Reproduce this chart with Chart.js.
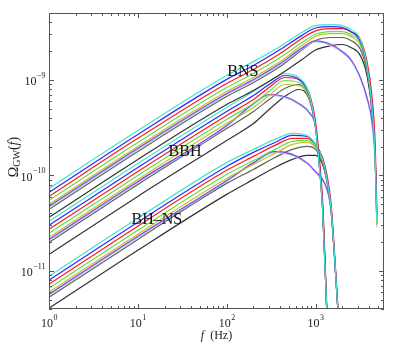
<!DOCTYPE html>
<html><head><meta charset="utf-8">
<script src="https://cdn.jsdelivr.net/npm/chart.js@4.4.1/dist/chart.umd.min.js"></script>
<style>html,body{margin:0;padding:0;background:#fff;}#wrap{width:399px;height:346px;}</style>
</head><body><div id="wrap"><canvas id="c" width="399" height="346"></canvas></div>
<script>
// ---- data (Omega_GW vs f) ----
const seriesNames = ['cyan','blue','red','green','olive','purple','lightcyan','darkgrey','black'];
const seriesColors = ['#44e4cc','#2a2aff','#ff1a1a','#5ee04a','#c2c22a','#9a3de8','#88d4ec','#606060','#333333'];

const bnsFreq = [1,10,100,200,400,700,1000,1500,2000,2500,3200,3800,4300,4700,4900];
const bnsCyan   = [7.3e-11,2.95e-10,1.11e-9,1.55e-9,2.23e-9,3.12e-9,3.69e-9,3.78e-9,3.69e-9,3.35e-9,2.64e-9,1.38e-9,5.52e-10,1.47e-10,3.47e-11];
const bnsBlue   = [6.64e-11,2.68e-10,1.01e-9,1.41e-9,2.07e-9,2.90e-9,3.48e-9,3.60e-9,3.52e-9,3.19e-9,2.52e-9,1.34e-9,5.66e-10,1.54e-10,3.91e-11];
const bnsRed    = [6.03e-11,2.44e-10,9.15e-10,1.28e-9,1.88e-9,2.70e-9,3.25e-9,3.43e-9,3.43e-9,3.19e-9,2.64e-9,1.55e-9,7.02e-10,2.11e-10,4.41e-11];
const bnsGreen  = [5.48e-11,2.21e-10,8.31e-10,1.164e-9,1.71e-9,2.45e-9,3.00e-9,3.19e-9,3.19e-9,2.97e-9,2.40e-9,1.34e-9,5.93e-10,1.66e-10,3.47e-11];
const bnsOlive  = [4.98e-11,2.01e-10,7.55e-10,1.057e-9,1.55e-9,2.28e-9,2.85e-9,3.04e-9,3.04e-9,2.83e-9,2.28e-9,1.28e-9,5.52e-10,1.47e-10,3.08e-11];
const bnsPurple = [4.75e-11,1.92e-10,7.19e-10,1.007e-9,1.48e-9,2.15e-9,2.55e-9,2.34e-9,1.98e-9,1.63e-9,1.057e-9,6.53e-10,3.85e-10,1.47e-10,3.47e-11];
const bnsLightCyan = [4.63e-11,1.87e-10,7.02e-10,9.83e-10,1.445e-9,2.10e-9,2.50e-9,2.28e-9,1.93e-9,1.59e-9,1.03e-9,6.22e-10,3.49e-10,1.21e-10,2.86e-11];
const bnsDarkGrey = [4.41e-11,1.78e-10,6.69e-10,9.37e-10,1.38e-9,2.05e-9,2.58e-9,2.77e-9,2.77e-9,2.58e-9,2.07e-9,1.22e-9,5.13e-10,1.47e-10,3.08e-11];
const bnsBlack  = [3.64e-11,1.47e-10,5.52e-10,7.73e-10,1.136e-9,1.62e-9,2.05e-9,2.28e-9,2.34e-9,2.18e-9,1.79e-9,1.109e-9,4.89e-10,1.47e-10,3.08e-11];

const bbhFreq = [1,10,100,200,300,450,650,850,1000,1100,1200,1350];
const bbhCyan   = [3.31e-11,1.33e-10,5.13e-10,7.55e-10,9.6e-10,1.164e-9,1.057e-9,7.02e-10,3.17e-10,1.30e-10,4.41e-11,3.13e-12];
const bbhBlue   = [3.01e-11,1.21e-10,4.66e-10,6.85e-10,8.93e-10,1.109e-9,1.007e-9,6.85e-10,3.17e-10,1.36e-10,4.63e-11,3.13e-12];
const bbhRed    = [2.73e-11,1.10e-10,4.24e-10,6.22e-10,8.31e-10,1.057e-9,1.007e-9,7.19e-10,3.67e-10,1.58e-10,5.61e-11,3.53e-12];
const bbhGreen  = [2.48e-11,1.0e-10,3.85e-10,5.66e-10,7.55e-10,9.83e-10,9.37e-10,6.69e-10,3.33e-10,1.40e-10,4.86e-11,3.13e-12];
const bbhOlive  = [2.25e-11,9.08e-11,3.49e-10,5.13e-10,6.85e-10,8.93e-10,8.72e-10,6.37e-10,3.17e-10,1.33e-10,4.63e-11,3.13e-12];
const bbhPurple = [2.14e-11,8.65e-11,3.33e-10,5.66e-10,7.02e-10,6.69e-10,5.66e-10,4.55e-10,3.25e-10,1.40e-10,4.86e-11,3.13e-12];
const bbhLightCyan = [2.09e-11,8.44e-11,3.25e-10,5.52e-10,6.85e-10,6.53e-10,5.52e-10,4.45e-10,3.17e-10,1.36e-10,4.75e-11,3.13e-12];
const bbhDarkGrey = [1.99e-11,8.05e-11,3.09e-10,4.66e-10,6.22e-10,8.11e-10,8.93e-10,6.53e-10,3.17e-10,1.33e-10,4.63e-11,3.13e-12];
const bbhBlack  = [1.49e-11,6.03e-11,2.32e-10,3.49e-10,4.89e-10,6.69e-10,7.92e-10,6.22e-10,3.17e-10,1.30e-10,4.41e-11,3.13e-12];

const bhnsFreq = [1,10,100,200,350,550,800,1000,1200,1350,1500,1800];
const bhnsCyan   = [8.81e-12,3.56e-11,1.36e-10,1.87e-10,2.38e-10,2.75e-10,2.62e-10,2.11e-10,1.47e-10,9.08e-11,4.41e-11,3.53e-12];
const bhnsBlue   = [7.99e-12,3.23e-11,1.24e-10,1.74e-10,2.21e-10,2.62e-10,2.55e-10,2.11e-10,1.47e-10,9.08e-11,4.41e-11,3.53e-12];
const bhnsRed    = [7.26e-12,2.94e-11,1.13e-10,1.58e-10,2.06e-10,2.44e-10,2.44e-10,2.11e-10,1.54e-10,1.0e-10,4.98e-11,3.79e-12];
const bhnsGreen  = [6.60e-12,2.66e-11,1.024e-10,1.43e-10,1.87e-10,2.27e-10,2.32e-10,2.01e-10,1.43e-10,9.08e-11,4.41e-11,3.53e-12];
const bhnsOlive  = [5.99e-12,2.42e-11,9.30e-11,1.30e-10,1.70e-10,2.11e-10,2.21e-10,1.96e-10,1.40e-10,8.86e-11,4.30e-11,3.53e-12];
const bhnsPurple = [5.71e-12,2.31e-11,8.86e-11,1.36e-10,1.78e-10,1.66e-10,1.36e-10,1.10e-10,9.08e-11,7.14e-11,4.20e-11,3.53e-12];
const bhnsLightCyan = [5.57e-12,2.25e-11,8.65e-11,1.33e-10,1.74e-10,1.62e-10,1.33e-10,1.07e-10,8.86e-11,6.97e-11,4.10e-11,3.53e-12];
const bhnsDarkGrey = [5.31e-12,2.14e-11,8.25e-11,1.155e-10,1.54e-10,1.87e-10,2.01e-10,1.87e-10,1.36e-10,8.65e-11,4.20e-11,3.53e-12];
const bhnsBlack  = [4.08e-12,1.65e-11,6.33e-11,9.08e-11,1.21e-10,1.47e-10,1.62e-10,1.62e-10,1.30e-10,8.44e-11,4.20e-11,3.53e-12];

const xTickValues = [1,10,100,1000];
const xTickBase = ['10','10','10','10'];
const xTickExp = ['0','1','2','3'];
const yTickValues = [1e-11,1e-10,1e-9];
const yTickBase = ['10','10','10'];
const yTickExp = ['\u221211','\u221210','\u22129'];

const noteTexts = ['BNS','BBH','BH\u2013NS'];
const noteFreqs = [152, 34, 16.4];
const noteOmegas = [1.22e-9, 1.78e-10, 3.4e-11];

const xMin = 1, xMax = 5900, yMin = 4e-12, yMax = 5e-9;

// ---- build datasets ----
const groups = [
  {f: bnsFreq, s: [bnsCyan,bnsBlue,bnsRed,bnsGreen,bnsOlive,bnsPurple,bnsLightCyan,bnsDarkGrey,bnsBlack]},
  {f: bbhFreq, s: [bbhCyan,bbhBlue,bbhRed,bbhGreen,bbhOlive,bbhPurple,bbhLightCyan,bbhDarkGrey,bbhBlack]},
  {f: bhnsFreq, s: [bhnsCyan,bhnsBlue,bhnsRed,bhnsGreen,bhnsOlive,bhnsPurple,bhnsLightCyan,bhnsDarkGrey,bhnsBlack]}
];
const datasets = [];
groups.forEach(g => g.s.forEach((vals, i) => {
  datasets.push({
    label: seriesNames[i],
    data: g.f.map((f, k) => ({x: f, y: vals[k]})),
    borderColor: seriesColors[i],
    borderWidth: 1.2,
    pointRadius: 0,
    fill: false,
    cubicInterpolationMode: 'monotone',
    clip: 0
  });
}));

const SERIF = '"Liberation Serif","DejaVu Serif",serif';

function drawSup(ctx, base, exp, x, y, align) {
  ctx.font = '12px ' + SERIF;
  const bw = ctx.measureText(base).width;
  ctx.font = '8px ' + SERIF;
  const ew = ctx.measureText(exp).width;
  let x0 = align === 'right' ? x - bw - ew : x - (bw + ew) / 2;
  ctx.font = '12px ' + SERIF;
  ctx.textAlign = 'left'; ctx.textBaseline = 'middle';
  ctx.fillText(base, x0, y);
  ctx.font = '8px ' + SERIF;
  ctx.fillText(exp, x0 + bw + 0.5, y - 6);
}

const axesPlugin = {
  id: 'axesPlugin',
  afterDatasetsDraw(chart) {
    const {ctx, chartArea: a} = chart;
    const xs = chart.scales.x, ys = chart.scales.y;
    ctx.save();
    ctx.strokeStyle = '#555'; ctx.lineWidth = 1;
    ctx.strokeRect(a.left + 0.5, a.top + 0.5, a.right - a.left - 1, a.bottom - a.top - 1);
    ctx.beginPath();
    for (let d = 1; d <= 1000; d *= 10) {
      for (let m = 1; m <= 9; m++) {
        const v = d * m; if (v < xMin || v > xMax) continue;
        const px = Math.round(xs.getPixelForValue(v)) + 0.5;
        const L = m === 1 ? 5 : 3;
        ctx.moveTo(px, a.bottom); ctx.lineTo(px, a.bottom - L);
        ctx.moveTo(px, a.top); ctx.lineTo(px, a.top + L);
      }
    }
    for (let d = 1e-12; d <= 1e-9 * 1.01; d *= 10) {
      for (let m = 1; m <= 9; m++) {
        const v = d * m; if (v < yMin || v > yMax) continue;
        const py = Math.round(ys.getPixelForValue(v)) + 0.5;
        const L = m === 1 ? 5 : 3;
        ctx.moveTo(a.left, py); ctx.lineTo(a.left + L, py);
        ctx.moveTo(a.right, py); ctx.lineTo(a.right - L, py);
      }
    }
    ctx.stroke();
    ctx.fillStyle = '#222';
    xTickValues.forEach((v, i) => drawSup(ctx, xTickBase[i], xTickExp[i], xs.getPixelForValue(v), a.bottom + 15, 'center'));
    yTickValues.forEach((v, i) => drawSup(ctx, yTickBase[i], yTickExp[i], a.left - 4, ys.getPixelForValue(v) + 2, 'right'));
    ctx.font = '16px ' + SERIF; ctx.textAlign = 'center'; ctx.textBaseline = 'middle'; ctx.fillStyle = '#111';
    noteTexts.forEach((t, i) => ctx.fillText(t, xs.getPixelForValue(noteFreqs[i]), ys.getPixelForValue(noteOmegas[i])));
    ctx.fillStyle = '#222';
    ctx.font = 'italic 12px ' + SERIF; ctx.textAlign = 'left'; ctx.textBaseline = 'middle';
    const t1 = 'f', t2 = '  (Hz)';
    const w1 = ctx.measureText(t1).width;
    ctx.font = '12px ' + SERIF;
    const w2 = ctx.measureText(t2).width;
    const cx = (a.left + a.right) / 2;
    let x0 = cx - (w1 + w2) / 2;
    ctx.font = 'italic 12px ' + SERIF; ctx.fillText(t1, x0, 336);
    ctx.font = '12px ' + SERIF; ctx.fillText(t2, x0 + w1, 336);
    ctx.translate(14, 157); ctx.rotate(-Math.PI / 2);
    const parts = [['\u03A9', '14px', 0, ''], ['GW', '10px', 3, ''], ['(', '14px', 0, ''], ['f', '14px', 0, 'italic '], [')', '14px', 0, '']];
    let tw = 0;
    parts.forEach(p => { ctx.font = p[3] + p[1] + ' ' + SERIF; tw += ctx.measureText(p[0]).width; });
    let xx = -tw / 2;
    parts.forEach(p => { ctx.font = p[3] + p[1] + ' ' + SERIF; ctx.fillText(p[0], xx, p[2]); xx += ctx.measureText(p[0]).width; });
    ctx.restore();
  }
};

new Chart(document.getElementById('c'), {
  type: 'line',
  data: { datasets },
  options: {
    responsive: false, animation: false, devicePixelRatio: 1,
    layout: { padding: { left: 49, top: 13, right: 15, bottom: 37 } },
    plugins: { legend: { display: false }, tooltip: { enabled: false } },
    scales: {
      x: { type: 'logarithmic', min: xMin, max: xMax, display: false },
      y: { type: 'logarithmic', min: yMin, max: yMax, display: false }
    }
  },
  plugins: [axesPlugin]
});
</script></body></html>
